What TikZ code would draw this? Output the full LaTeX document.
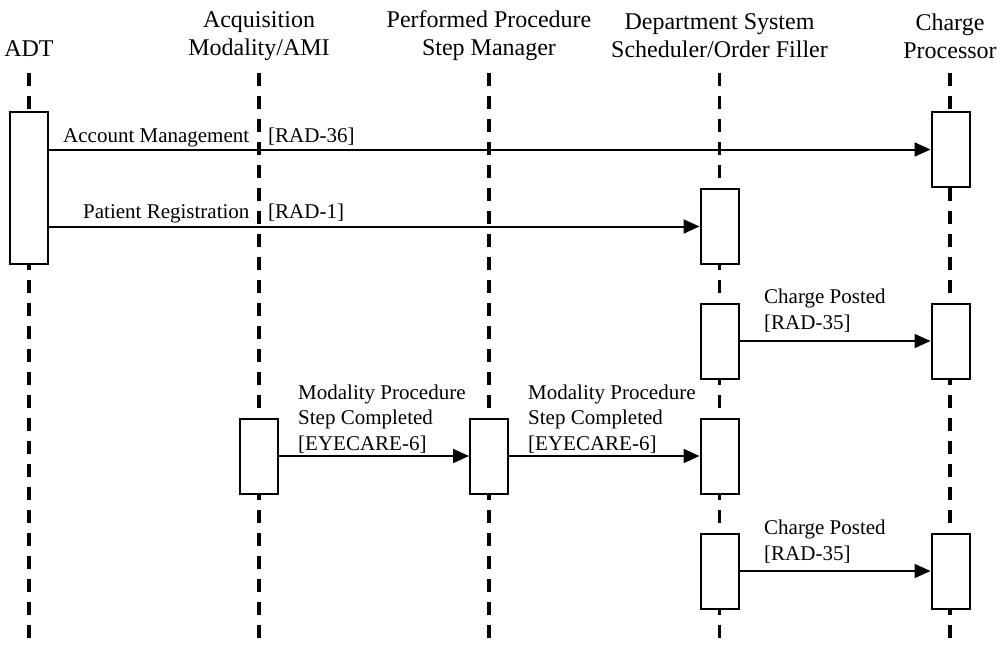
\documentclass[tikz,border=0pt]{standalone}
\usepackage{fontspec}
\setmainfont{Liberation Serif}
\usetikzlibrary{arrows.meta}
\begin{document}
\begin{tikzpicture}[x=1pt,y=-1pt,
  header/.style={align=center,inner sep=0pt,font=\fontsize{24}{28}\selectfont},
  lbl/.style={align=left,inner sep=0pt,anchor=base west,font=\fontsize{21}{25.5}\selectfont},
  lifeline/.style={line width=3.2pt,dash pattern=on 13pt off 10pt},
  actbox/.style={draw,fill=white,line width=2pt,minimum width=38pt,minimum height=75pt,inner sep=0pt},
  msg/.style={line width=2pt,-{Triangle[length=16pt,width=14pt]}}]
\useasboundingbox (0,0) rectangle (1000,645);
% headers
\node[header] (hADT) at (29,49) {ADT};
\node[header] (hAMI) at (259,36) {Acquisition\\Modality/AMI};
\node[header] (hPPS) at (489,36) {Performed Procedure\\Step Manager};
\node[header] (hDSS) at (719.5,36) {Department System\\Scheduler/Order Filler};
\node[header] (hCP) at (950,36) {Charge\\Processor};
% lifelines
\foreach \n/\x in {adt/29,ami/259,pps/489,dss/719.5,cp/950}{
  \coordinate (\n T) at (\x,73);
  \coordinate (\n B) at (\x,645);
  \draw[lifeline] (\n T) -- (\n B);
}
% activation boxes
\node[actbox,minimum height=152pt] (adtA) at (29,188) {};
\node[actbox] (cp1) at (950.5,149.5) {};
\node[actbox] (dss1) at (719.5,226.5) {};
\node[actbox] (dss2) at (719.5,341) {};
\node[actbox] (cp2) at (950.5,341) {};
\node[actbox] (ami1) at (259,456) {};
\node[actbox] (pps1) at (489,456) {};
\node[actbox] (dss3) at (719.5,456) {};
\node[actbox] (dss4) at (719.5,571) {};
\node[actbox] (cp3) at (950.5,571) {};
% messages
\draw[msg] (adtA.east |- cp1.west) -- (cp1.west);
\draw[msg] (adtA.east |- dss1.west) -- (dss1.west);
\draw[msg] (dss2.east) -- (cp2.west);
\draw[msg] (ami1.east) -- (pps1.west);
\draw[msg] (pps1.east) -- (dss3.west);
\draw[msg] (dss4.east) -- (cp3.west);
% labels
\node[lbl] (l1) at (63,142) {\makebox[205pt][l]{Account Management}[RAD-36]};
\node[lbl] (l2) at (83,218) {\makebox[185pt][l]{Patient Registration}[RAD-1]};
\node[lbl] (l3) at (764,329) {Charge Posted\\{[RAD-35]}};
\node[lbl] (l4) at (298,450) {Modality Procedure\\Step Completed\\{[EYECARE-6]}};
\node[lbl] (l5) at (528,450) {Modality Procedure\\Step Completed\\{[EYECARE-6]}};
\node[lbl] (l6) at (764,560) {Charge Posted\\{[RAD-35]}};
\end{tikzpicture}
\end{document}
